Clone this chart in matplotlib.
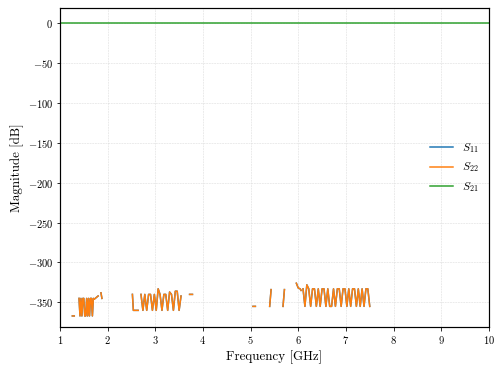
import numpy as np
import matplotlib
matplotlib.use("Agg")
import matplotlib.pyplot as plt

plt.rcParams['font.family'] = ['cmr10', 'DejaVu Serif']
plt.rcParams['mathtext.fontset'] = 'cm'
plt.rcParams['axes.formatter.use_mathtext'] = True

nan = np.nan

# S22 / S11 magnitude (dB), gaps where value is -inf
freq_ghz = [
    1.26, 1.30, nan,
    1.40, 1.42, 1.44, 1.46, 1.48, 1.50, 1.52, 1.54, 1.56, 1.58, 1.60, 1.62, 1.64,
    1.66, 1.68, 1.70, 1.72, 1.74, 1.76, 1.80, nan,
    1.86, 1.88, nan,
    2.52, 2.54, 2.58, 2.64, nan,
    2.70, 2.74, 2.78, 2.82, 2.86, 2.90, 2.94, 2.98, 3.02, 3.06, 3.10, 3.14,
    3.18, 3.22, 3.26, 3.30, 3.34, 3.38, 3.42, 3.46, 3.50, 3.54, nan,
    3.72, 3.78, nan,
    5.05, 5.10, nan,
    5.40, 5.43, nan,
    5.68, 5.71, nan,
    5.96, 6.00, 6.04, 6.06, nan,
    6.10, 6.14, 6.18, 6.22, 6.26, 6.30, 6.34, 6.38, 6.42, 6.46, 6.50, 6.54,
    6.58, 6.62, 6.66, 6.70, 6.74, 6.78, 6.82, 6.86, 6.90, 6.94, 6.98, 7.02,
    7.06, 7.10, 7.14, 7.18, 7.22, 7.26, 7.30, 7.34, 7.38, 7.42, 7.46, 7.50,
]
s22_db = [
    -367, -367, nan,
    -345, -367, -345, -367, -345, -345, -367, -367, -345, -367, -345, -367, -345,
    -345, -367, -345, -346, -345, -344, -342, nan,
    -338, -345, nan,
    -340, -360, -360, -360, nan,
    -340, -360, -340, -360, -340, -340, -360, -340, -360, -333, -340, -360,
    -340, -340, -360, -337, -340, -360, -336, -336, -360, -342, nan,
    -340, -340, nan,
    -355, -355, nan,
    -355, -334, nan,
    -355, -334, nan,
    -326, -332, -333, -335, nan,
    -333, -355, -328, -333, -355, -333, -333, -355, -333, -355, -333, -333,
    -355, -333, -355, -355, -333, -355, -333, -333, -355, -333, -333, -355,
    -333, -355, -333, -333, -355, -333, -355, -333, -355, -333, -333, -355,
]
s11_db = list(s22_db)

s21_freq = [1.0, 10.0]
s21_db = [0.0, 0.0]

fig = plt.figure(figsize=(504 / 72, 376 / 72), dpi=72)
ax = fig.add_axes([0.119, 0.130, 0.851, 0.849])

ax.plot(freq_ghz, s11_db, color='tab:blue', lw=1.5, label=r'$S_{11}$')
ax.plot(freq_ghz, s22_db, color='tab:orange', lw=1.5, label=r'$S_{22}$')
ax.plot(s21_freq, s21_db, color='tab:green', lw=1.5, label=r'$S_{21}$')

ax.set_xlim(1, 10)
ax.set_ylim(-381, 19)
ax.set_xticks(range(1, 11))
ax.set_yticks([0, -50, -100, -150, -200, -250, -300, -350])
ax.grid(True, ls='--', lw=0.5, color='#d8d8d8')
ax.tick_params(labelsize=10.5)
for sp in ax.spines.values():
    sp.set_linewidth(1.2)

ax.set_xlabel('Frequency [GHz]', fontsize=13)
ax.set_ylabel('Magnitude [dB]', fontsize=13)
ax.legend(loc='center right', frameon=False, fontsize=11.5)

fig.savefig('out.png', dpi=72)
